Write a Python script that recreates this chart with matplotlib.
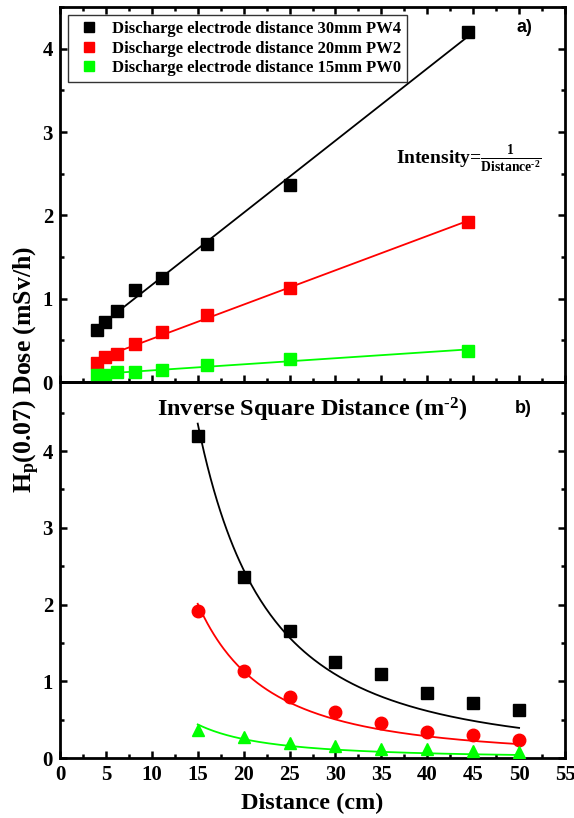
import numpy as np
import matplotlib.pyplot as plt

plt.rcParams['font.family'] = ['Liberation Serif', 'DejaVu Serif']
plt.rcParams['font.weight'] = 'bold'
plt.rcParams['axes.labelweight'] = 'bold'
plt.rcParams['mathtext.fontset'] = 'custom'
plt.rcParams['mathtext.rm'] = 'Liberation Serif:bold'
plt.rcParams['mathtext.it'] = 'Liberation Serif:bold'
plt.rcParams['mathtext.bf'] = 'Liberation Serif:bold'
plt.rcParams['mathtext.default'] = 'rm'

# ---------------------------------------------------------------------------
# data (dose rate in mSv/h vs distance)
# ---------------------------------------------------------------------------
distance_cm = np.array([15, 20, 25, 30, 35, 40, 45, 50])
inv_sq_dist = 1.0 / (distance_cm / 100.0) ** 2      # m^-2

dose_pw4 = np.array([4.20, 2.36, 1.66, 1.25, 1.10, 0.85, 0.72, 0.63])
dose_pw2 = np.array([1.92, 1.13, 0.80, 0.60, 0.46, 0.34, 0.30, 0.23])
dose_pw0 = np.array([0.37, 0.28, 0.20, 0.15, 0.12, 0.115, 0.09, 0.08])

labels = ['Discharge electrode distance 30mm PW4',
          'Discharge electrode distance 20mm PW2',
          'Discharge electrode distance 15mm PW0']
colors = ['black', '#FF0000', '#00FF00']
series = [dose_pw4, dose_pw2, dose_pw0]
markers_b = ['s', 'o', '^']

fig = plt.figure(figsize=(5.74, 8.18), dpi=100)
W, H = 574, 818
left, right = 60, 565
ax1 = fig.add_axes([left / W, 1 - 382 / H, (right - left) / W, (382 - 7) / H])
ax2 = fig.add_axes([left / W, 1 - 758 / H, (right - left) / W, (758 - 382) / H])
ax2.patch.set_alpha(0)

# --- a) linear vs inverse square distance
for y, c, lab in zip(series, colors, labels):
    p = np.polyfit(inv_sq_dist, y, 1)
    xx = np.array([inv_sq_dist.min(), inv_sq_dist.max()])
    ax1.plot(xx, np.polyval(p, xx), color=c, lw=1.3, zorder=2)
    ax1.plot(inv_sq_dist, y, 's', color=c, ms=8, label=lab, zorder=3)

ax1.set_xlim(0, 55)
ax1.set_ylim(0, 4.5)
ax1.set_xticks(np.arange(0, 56, 5))
ax1.set_xticks(np.arange(0, 56, 2.5), minor=True)
ax1.set_yticks([0, 1, 2, 3, 4])
ax1.set_yticks(np.arange(0, 4.6, 0.5), minor=True)
ax1.tick_params(axis='x', labelbottom=False)
ax1.set_xlabel(r'Inverse Square Distance (m$^{\text{-2}}$)', fontsize=17.5, labelpad=5)
leg = ax1.legend(loc='upper left', fontsize=12, frameon=True, fancybox=False,
                 edgecolor='black', handletextpad=0.5, borderpad=0.35,
                 labelspacing=0.2, handlelength=1.8, markerscale=0.85,
                 bbox_to_anchor=(0.0, 1.0))
leg.get_frame().set_linewidth(1.0)
ax1.text(0.935, 0.945, 'a)', transform=ax1.transAxes, fontsize=13,
         family='Liberation Sans', fontweight='bold', ha='right', va='center')
ax1.text(0.665, 0.595, r'Intensity=$\frac{1}{Distance^{\text{-2}}}$', transform=ax1.transAxes,
         fontsize=14, ha='left', va='center')

# --- b) inverse square fit vs distance
dd = np.linspace(15, 50, 200)
for y, c, m in zip(series, colors, markers_b):
    xinv = 1.0 / distance_cm ** 2
    A = np.sum(y * xinv) / np.sum(xinv ** 2)
    ax2.plot(dd, A / dd ** 2, color=c, lw=1.3, zorder=2)
    ax2.plot(distance_cm, y, m, color=c, ms=9, zorder=3)

ax2.set_xlim(0, 55)
ax2.set_ylim(0, 4.9)
ax2.set_xticks(np.arange(0, 56, 5))
ax2.set_xticks(np.arange(0, 56, 2.5), minor=True)
ax2.set_yticks([0, 1, 2, 3, 4])
ax2.set_yticks(np.arange(0, 4.9, 0.5), minor=True)
ax2.set_xlabel('Distance (cm)', fontsize=17.5, labelpad=6)
ax2.text(0.935, 0.93, 'b)', transform=ax2.transAxes, fontsize=13,
         family='Liberation Sans', fontweight='bold', ha='right', va='center')

for ax in (ax1, ax2):
    for s in ax.spines.values():
        s.set_linewidth(2.0)
    ax.tick_params(which='both', direction='in', top=True, right=True, width=1.8,
                   labelsize=15, pad=5)
    ax.tick_params(which='major', length=5)
    ax.tick_params(which='minor', length=3)
ax2.tick_params(which='both', top=False)

fig.text(27 / W, 1 - 370 / H, r'H$_\mathrm{p}$(0.07) Dose (mSv/h)', rotation=90,
         fontsize=18.5, fontweight='bold', ha='center', va='center')

fig.savefig('out.png', dpi=100)
